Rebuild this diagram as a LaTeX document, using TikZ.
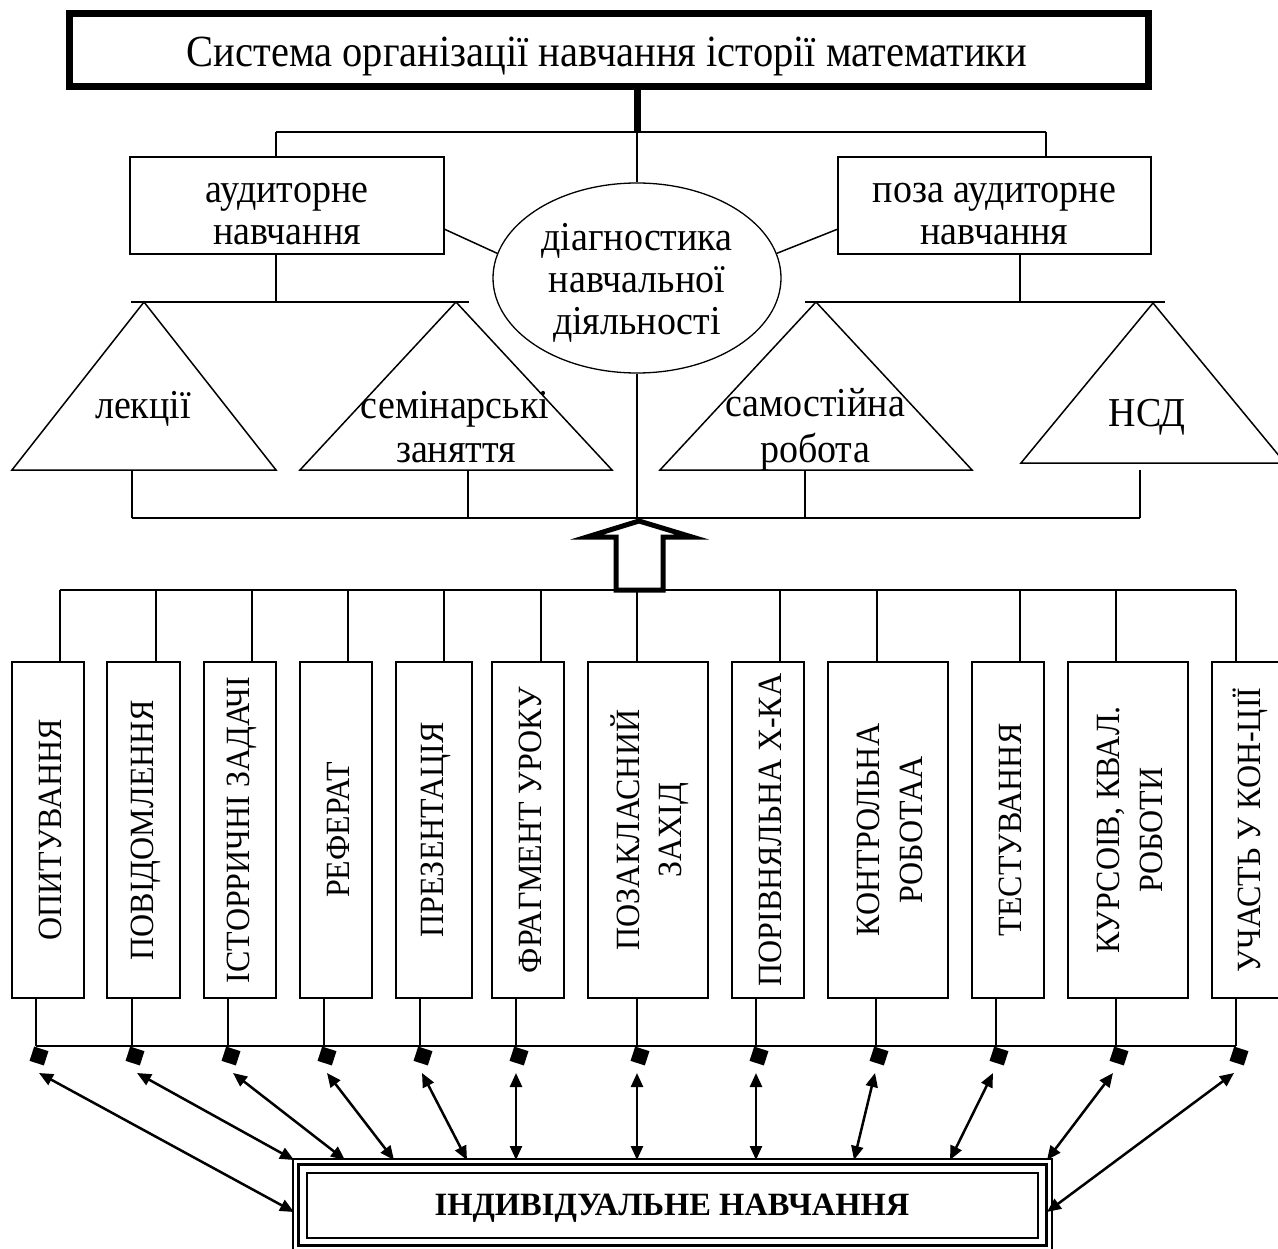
\documentclass[tikz,border=0pt]{standalone}
\usepackage{fontspec}
\setmainfont{Liberation Serif}
\usetikzlibrary{arrows.meta,shapes.geometric,calc}
\begin{document}
\begin{tikzpicture}[x=1pt,y=-1pt,
  ln/.style={line width=1.5pt},
  box/.style={draw, line width=1.5pt, inner sep=0pt},
  txt/.style={font=\fontsize{38}{42}\selectfont, inner sep=0pt, anchor=base, yscale=1.08},
  vtxt/.style={font=\fontsize{32}{40}\selectfont, rotate=90, yscale=1.06, align=center, inner sep=0pt},
  dart/.style={line width=2.5pt, {Triangle[length=14pt,width=12pt]}-{Triangle[length=14pt,width=12pt]}},
  sq/.style={fill, minimum size=15pt, inner sep=0pt, rotate=-18}]
\useasboundingbox (0,0) rectangle (1278,1249);

% title
\node[draw, line width=7pt, minimum width=1079pt, minimum height=73pt, inner sep=0pt] (title) at (609,50) {};
\node[font=\fontsize{40.5}{48}\selectfont, inner sep=0pt, anchor=base, yscale=1.1] (titletxt) at (607,67) {Система організації навчання історії математики};

% second level
\node[box, minimum width=314pt, minimum height=97pt] (aud) at (287,205.5) {};
\node[txt] (aud1) at (287,203) {аудиторне};
\node[txt] (aud2) at (287,245) {навчання};
\node[box, minimum width=313pt, minimum height=97pt] (poza) at (994.5,205.5) {};
\node[txt] (poza1) at (994.5,203) {поза аудиторне};
\node[txt] (poza2) at (994.5,245) {навчання};
\node[draw, line width=1.3pt, ellipse, minimum width=288pt, minimum height=190pt, inner sep=0pt] (diag) at (637,278) {};
\node[txt] (diag1) at (637,251) {діагностика};
\node[txt] (diag2) at (637,293) {навчальної};
\node[txt] (diag3) at (637,335) {діяльності};

\coordinate (tj) at (637,132);
\coordinate (aj) at (276,132);
\coordinate (pj) at (1046,132);
\draw[line width=7pt] (title.south -| tj) -- (tj);
\draw[ln] (aj) -- (pj);
\draw[ln] (aj) -- (aj |- aud.north);
\draw[ln] (pj) -- (pj |- poza.north);
\draw[ln] (tj) -- (diag.north);
\coordinate (al) at (444,229);
\coordinate (pl) at (838,229);
\draw[ln] (al) -- (diag.170);
\draw[ln] (pl) -- (diag.10);

% triangles
\coordinate (ab) at (276,302);
\coordinate (pb) at (1020,302);
\draw[ln] (aud.south -| ab) -- (ab);
\draw[ln] (poza.south -| pb) -- (pb);
\coordinate (hl1) at (131,302); \coordinate (hl2) at (469,302);
\coordinate (hr1) at (805,302); \coordinate (hr2) at (1165,302);
\draw[ln] (hl1) -- (hl2);
\draw[ln] (hr1) -- (hr2);

\coordinate (lkA) at (144,302); \coordinate (lkL) at (12,470); \coordinate (lkR) at (276,470);
\coordinate (smA) at (456,302); \coordinate (smL) at (300,470); \coordinate (smR) at (612,470);
\coordinate (srA) at (816,302); \coordinate (srL) at (660,470); \coordinate (srR) at (972,470);
\coordinate (nsA) at (1153,303); \coordinate (nsL) at (1021,463); \coordinate (nsR) at (1285,463);
\draw[ln] (lkA) -- (lkL) -- (lkR) -- cycle;
\draw[ln] (smA) -- (smL) -- (smR) -- cycle;
\draw[ln] (srA) -- (srL) -- (srR) -- cycle;
\draw[ln] (nsA) -- (nsL) -- (nsR) -- cycle;
\node[txt] (lk) at (143,418) {лекції};
\node[txt] (sm1) at (455,418) {семінарські};
\node[txt] (sm2) at (456,462) {заняття};
\node[txt] (sr1) at (815,417) {самостійна};
\node[txt] (sr2) at (815,462) {робота};
\node[txt] (ns) at (1147,427) {НСД};

% lower collector
\coordinate (c1) at (132,518); \coordinate (c2) at (468,518);
\coordinate (c3) at (805,518); \coordinate (c4) at (1140,518);
\coordinate (cm) at (637,518);
\draw[ln] (132,470) -- (c1);
\draw[ln] (468,470) -- (c2);
\draw[ln] (805,470) -- (c3);
\draw[ln] (1140,470) -- (c4);
\draw[ln] (c1) -- (c4);
\draw[ln] (diag.south) -- (cm);

% top bus for vertical boxes
\coordinate (bus1) at (60,590); \coordinate (bus2) at (1236,590);
\draw[ln] (bus1) -- (bus2);

% block arrow
\draw[line width=5pt, fill=white, miter limit=10] (639,521) -- (587,537) -- (616,537) -- (616,590) -- (663,590) -- (663,537) -- (692,537) -- cycle;

% vertical boxes
\foreach \i/\l/\w/\u/\d/\t in {
  1/12/72/60/36/{ОПИТУВАННЯ},
  2/107/73/156/132/{ПОВІДОМЛЕННЯ},
  3/204/72/252/228/{ІСТОРРИЧНІ ЗАДАЧІ},
  4/300/72/348/324/{РЕФЕРАТ},
  5/396/76/444/420/{ПРЕЗЕНТАЦІЯ},
  6/492/72/541/516/{ФРАГМЕНТ УРОКУ},
  7/588/120/637/637/{ПОЗАКЛАСНИЙ\\ЗАХІД},
  8/732/72/780/756/{ПОРІВНЯЛЬНА Х-КА},
  9/828/120/877/876/{КОНТРОЛЬНА\\РОБОТАА},
  10/972/72/1020/996/{ТЕСТУВАННЯ},
  11/1068/120/1116/1116/{КУРСОІВ, КВАЛ.\\РОБОТИ},
  12/1212/72/1236/1236/{УЧАСТЬ У КОН-ЦІЇ}} {
  \node[box, minimum width=\w pt, minimum height=336pt] (b\i) at ({\l+\w/2},830) {};
  \node[vtxt] (t\i) at ($(b\i.center)+(2,0)$) {\t};
  \coordinate (u\i) at (\u,590);
  \draw[ln] (u\i) -- (u\i |- b\i.north);
  \coordinate (d\i) at (\d,1046);
  \draw[ln] (d\i |- b\i.south) -- (d\i);
  \node[sq] (s\i) at ({\d+3},1056) {};
}
\draw[ln] (d1) -- (d12);

% bottom box
\node[draw, line width=1.5pt, minimum width=759pt, minimum height=92pt, inner sep=0pt] (ind) at (672.5,1205) {};
\node[draw, line width=3pt, minimum width=748pt, minimum height=80.5pt, inner sep=0pt] (indm) at (ind.center) {};
\node[draw, line width=1.5pt, minimum width=731pt, minimum height=65pt, inner sep=0pt] (indi) at (672.5,1205.5) {};
\node[font=\bfseries\fontsize{32.5}{36}\selectfont, inner sep=0pt, anchor=base] (indtxt) at (672,1215) {ІНДИВІДУАЛЬНЕ НАВЧАННЯ};

% double arrows
\foreach \i/\xa/\xb/\yb in {1/39/294/1212, 2/137/294/1160, 3/233/345/1160, 4/327/394/1160,
  5/422/467/1160, 6/516/516/1160, 7/637/637/1160, 8/756/756/1160, 9/875/854/1160,
  10/993/950/1160, 11/1113/1047/1160, 12/1234/1047/1212} {
  \coordinate (ta\i) at (\xa,1073);
  \coordinate (tb\i) at (\xb,\yb);
  \draw[dart] (ta\i) -- (tb\i);
}
\end{tikzpicture}
\end{document}
